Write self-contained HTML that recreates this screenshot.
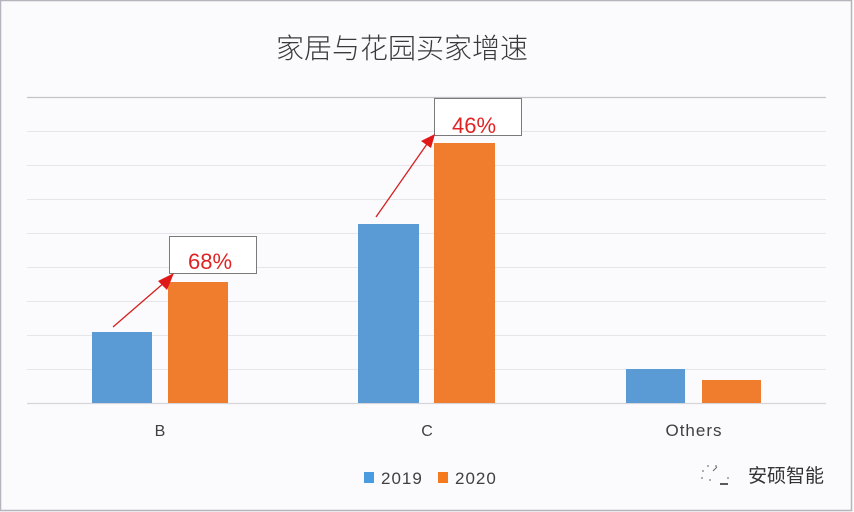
<!DOCTYPE html>
<html>
<head>
<meta charset="utf-8">
<style>
html,body{margin:0;padding:0;background:#fbfbfd;}
body{width:854px;height:512px;overflow:hidden;}
svg{display:block;}
text{font-family:"Liberation Sans","Noto Sans CJK SC",sans-serif;}
</style>
</head>
<body>
<svg width="854" height="512" viewBox="0 0 854 512" xmlns="http://www.w3.org/2000/svg">
  <rect x="0" y="0" width="854" height="512" fill="#fbfbfd"/>
  <!-- border -->
  <rect x="0.5" y="0.5" width="851" height="510" fill="none" stroke="#b4b4bc" stroke-width="1.5"/>
  <!-- title -->
  <text x="402" y="58" font-size="28" fill="#3a3a3a" text-anchor="middle" font-family="Noto Sans CJK SC, sans-serif" font-weight="300">家居与花园买家增速</text>
  <!-- gridlines -->
  <line x1="27" y1="97.5" x2="826" y2="97.5" stroke="#c4c4c8" stroke-width="1.2"/>
  <g stroke="#e6e6ea" stroke-width="1">
    <line x1="27" y1="131.5" x2="826" y2="131.5"/>
    <line x1="27" y1="165.5" x2="826" y2="165.5"/>
    <line x1="27" y1="199.5" x2="826" y2="199.5"/>
    <line x1="27" y1="233.5" x2="826" y2="233.5"/>
    <line x1="27" y1="267.5" x2="826" y2="267.5"/>
    <line x1="27" y1="301.5" x2="826" y2="301.5"/>
    <line x1="27" y1="335.5" x2="826" y2="335.5"/>
    <line x1="27" y1="369.5" x2="826" y2="369.5"/>
  </g>
  <line x1="27" y1="403.5" x2="826" y2="403.5" stroke="#d6d6da" stroke-width="1.2"/>
  <!-- bars -->
  <rect x="92" y="332" width="60" height="71" fill="#5b9bd5"/>
  <rect x="168" y="282" width="60" height="121" fill="#f07d2e"/>
  <rect x="358" y="224" width="61" height="179" fill="#5b9bd5"/>
  <rect x="434" y="143" width="61" height="260" fill="#f07d2e"/>
  <rect x="626" y="369" width="59" height="34" fill="#5b9bd5"/>
  <rect x="702" y="380" width="59" height="23" fill="#f07d2e"/>
  <!-- annotation boxes -->
  <rect x="169.5" y="236.5" width="87" height="37" fill="#ffffff" stroke="#7a7a7a" stroke-width="1"/>
  <text x="210" y="269" font-size="22" fill="#e02424" text-anchor="middle">68%</text>
  <rect x="434.5" y="98.5" width="87" height="37" fill="#ffffff" stroke="#7a7a7a" stroke-width="1"/>
  <text x="474" y="133" font-size="22" fill="#e02424" text-anchor="middle">46%</text>
  <!-- arrows -->
  <line x1="113" y1="327" x2="165" y2="282" stroke="#d42020" stroke-width="1.3"/>
  <polygon points="174,273 158,281 167,290" fill="#e01818"/>
  <line x1="376" y1="217" x2="427" y2="144" stroke="#d42020" stroke-width="1.3"/>
  <polygon points="435,134 421,141 431,148" fill="#e01818"/>
  <!-- category labels -->
  <text x="160" y="436" font-size="16" fill="#404040" text-anchor="middle">B</text>
  <text x="427" y="436" font-size="16" fill="#404040" text-anchor="middle">C</text>
  <text x="694" y="436" font-size="17" fill="#404040" text-anchor="middle" letter-spacing="1">Others</text>
  <!-- legend -->
  <rect x="364" y="472" width="10" height="11" fill="#4a9be0"/>
  <text x="381" y="484" font-size="17" fill="#404040" letter-spacing="1">2019</text>
  <rect x="438" y="472" width="10" height="11" fill="#f57a1e"/>
  <text x="455" y="484" font-size="17" fill="#404040" letter-spacing="1">2020</text>
  <!-- watermark -->
  <g fill="#777" >
    <circle cx="703" cy="471" r="0.9"/>
    <circle cx="708" cy="466" r="0.9"/>
    <circle cx="716" cy="466" r="0.9"/>
    <circle cx="702" cy="478" r="0.9"/>
    <circle cx="710" cy="480" r="0.9"/>
    <circle cx="728" cy="478" r="0.9"/>
  </g>
  <line x1="713" y1="471" x2="717" y2="467" stroke="#666" stroke-width="1"/>
  <line x1="720" y1="484" x2="728" y2="484" stroke="#333" stroke-width="1.6"/>
  <text x="748" y="482" font-size="19" fill="#333" font-family="Noto Sans CJK SC, sans-serif">安硕智能</text>
</svg>
</body>
</html>
